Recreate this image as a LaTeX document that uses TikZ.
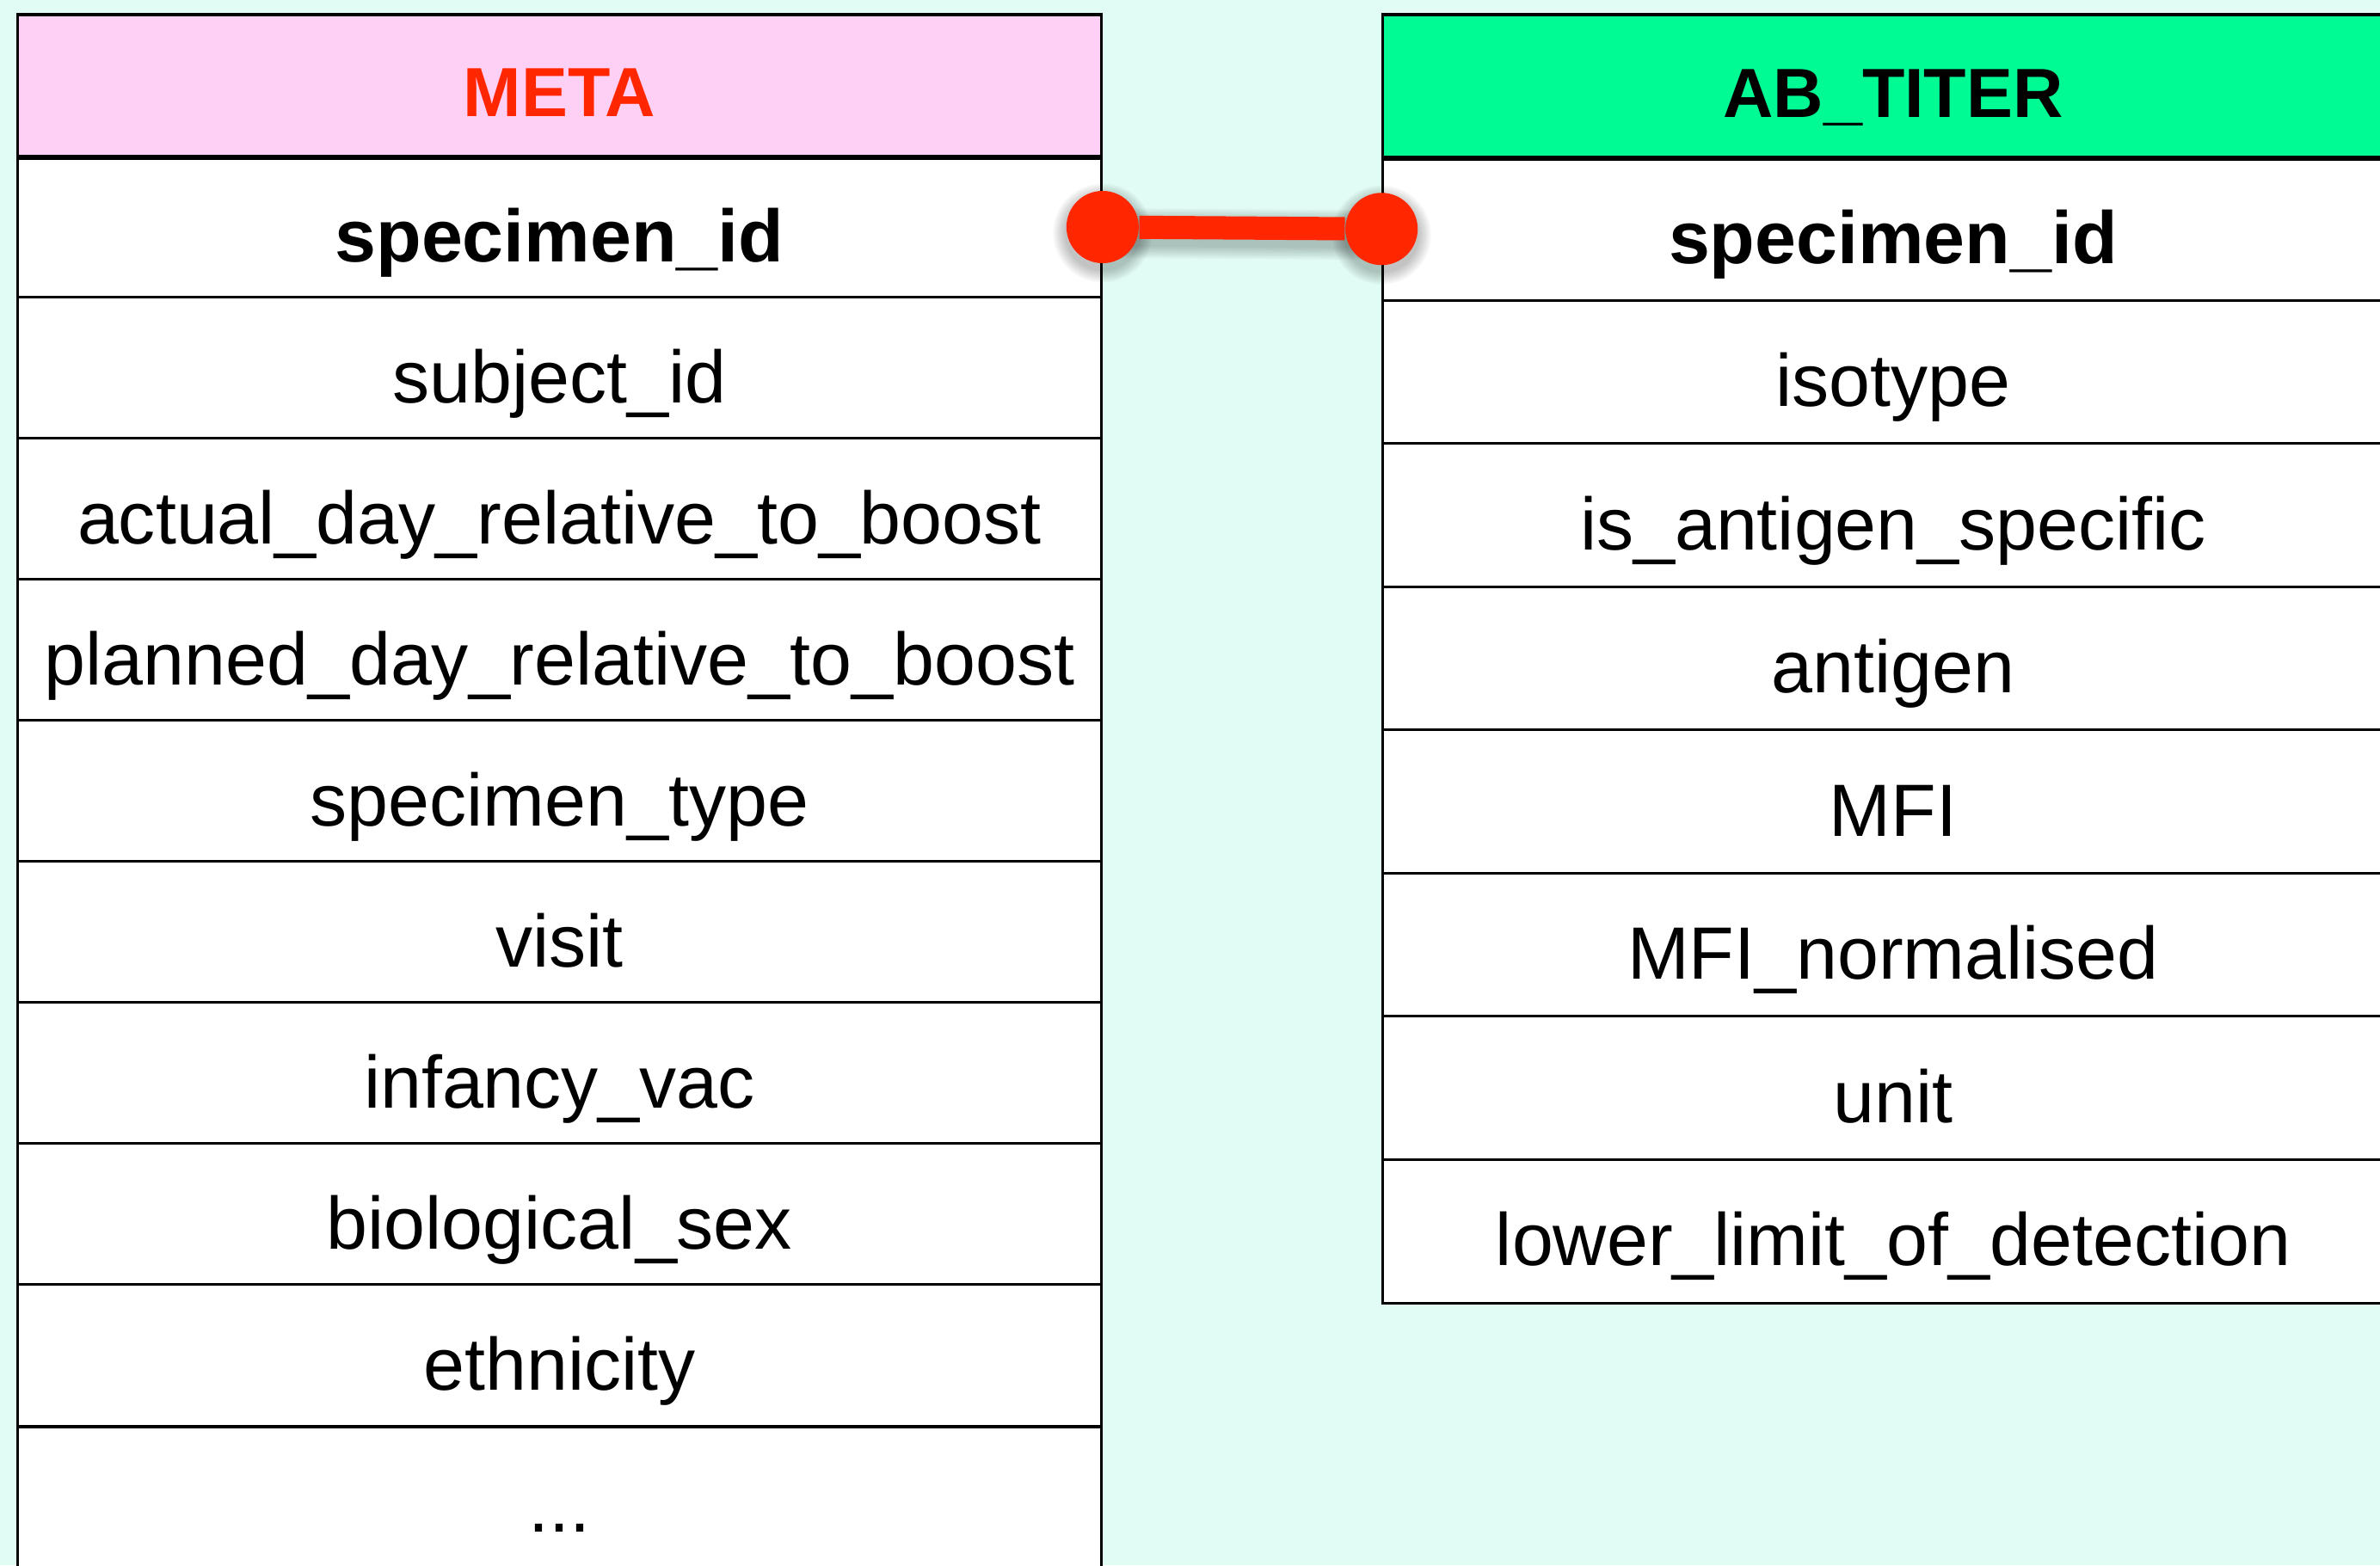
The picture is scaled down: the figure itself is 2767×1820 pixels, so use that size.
\documentclass[tikz,border=0pt]{standalone}
\usepackage{fontspec}
\setmainfont{Liberation Sans}
\definecolor{bgmint}{HTML}{E0FCF4}
\definecolor{metapink}{HTML}{FFD0F5}
\definecolor{metared}{HTML}{FF2600}
\definecolor{abgreen}{HTML}{00FA93}
\tikzset{
  cell/.style={draw=black, line width=0.85pt, fill=white, inner sep=0pt,
    font=\fontsize{24.5}{29}\selectfont, text height=0.8cm, text depth=0cm},
  metacell/.style={cell, minimum width=12.59cm, minimum height=1.64cm},
  abcell/.style={cell, minimum width=11.86cm, minimum height=1.665cm},
  headcell/.style={draw=black, line width=1pt, inner sep=0pt,
    font=\fontsize{23}{28}\selectfont\bfseries, text height=0.72cm, text depth=0cm},
  keyfield/.style={font=\fontsize{24.5}{29}\selectfont\bfseries},
  endpoint/.style={circle, fill=metared, minimum size=0.84cm, inner sep=0pt},
  link/.style={draw=metared, line width=0.27cm},
  shadowfill/.style={black, opacity=0.035},
}
\begin{document}
\begin{tikzpicture}[x=0.01cm,y=-0.01cm]
\useasboundingbox (0,0) rectangle (2767,1820);
\clip (0,0) rectangle (2767,1820);
\fill[bgmint] (0,0) rectangle (2767,1820);

% META table
\node[headcell, fill=metapink, text=metared, minimum width=12.59cm, minimum height=1.65cm] (metahead) at (650.5,99.5) {META};
\node[metacell, keyfield] (m1) at (650.5,264) {specimen\_id};
\foreach \t [count=\i from 2] in {subject\_id, actual\_day\_relative\_to\_boost, planned\_day\_relative\_to\_boost, specimen\_type, visit, infancy\_vac, biological\_sex, ethnicity}
  \node[metacell] (m\i) at (650.5,{182+164*(\i-1)+82}) {\t};
\node[metacell, minimum height=2.2cm, anchor=north, text height=0.24cm] (m10) at (650.5,1658) {...};
\draw[line width=1.5pt] (metahead.south west) -- (metahead.south east);

% AB_TITER table
\node[headcell, fill=abgreen, minimum width=11.86cm, minimum height=1.66cm] (abhead) at (2201,100) {AB\_TITER};
\node[abcell, keyfield] (a1) at (2201,266.25) {specimen\_id};
\foreach \t [count=\i from 2] in {isotype, is\_antigen\_specific, antigen, MFI, MFI\_normalised, unit, lower\_limit\_of\_detection}
  \node[abcell] (a\i) at (2201,{183+166.5*(\i-1)+83.25}) {\t};
\draw[line width=1.5pt] (abhead.south west) -- (abhead.south east);

% shadow of the link
\foreach \k in {1,...,7} {
  \fill[shadowfill] ([yshift=-0.07cm]m1.east) circle ({0.42cm+\k*0.022cm});
  \fill[shadowfill] ([yshift=-0.07cm]a1.west) circle ({0.42cm+\k*0.022cm});
  \draw[shadowfill, line width={0.27cm+\k*0.044cm}] ([yshift=-0.07cm]m1.east) -- ([yshift=-0.07cm]a1.west);
}

% link
\node[endpoint] (epA) at (m1.east) {};
\node[endpoint] (epB) at (a1.west) {};
\draw[link] (epA) -- (epB);
\end{tikzpicture}
\end{document}
